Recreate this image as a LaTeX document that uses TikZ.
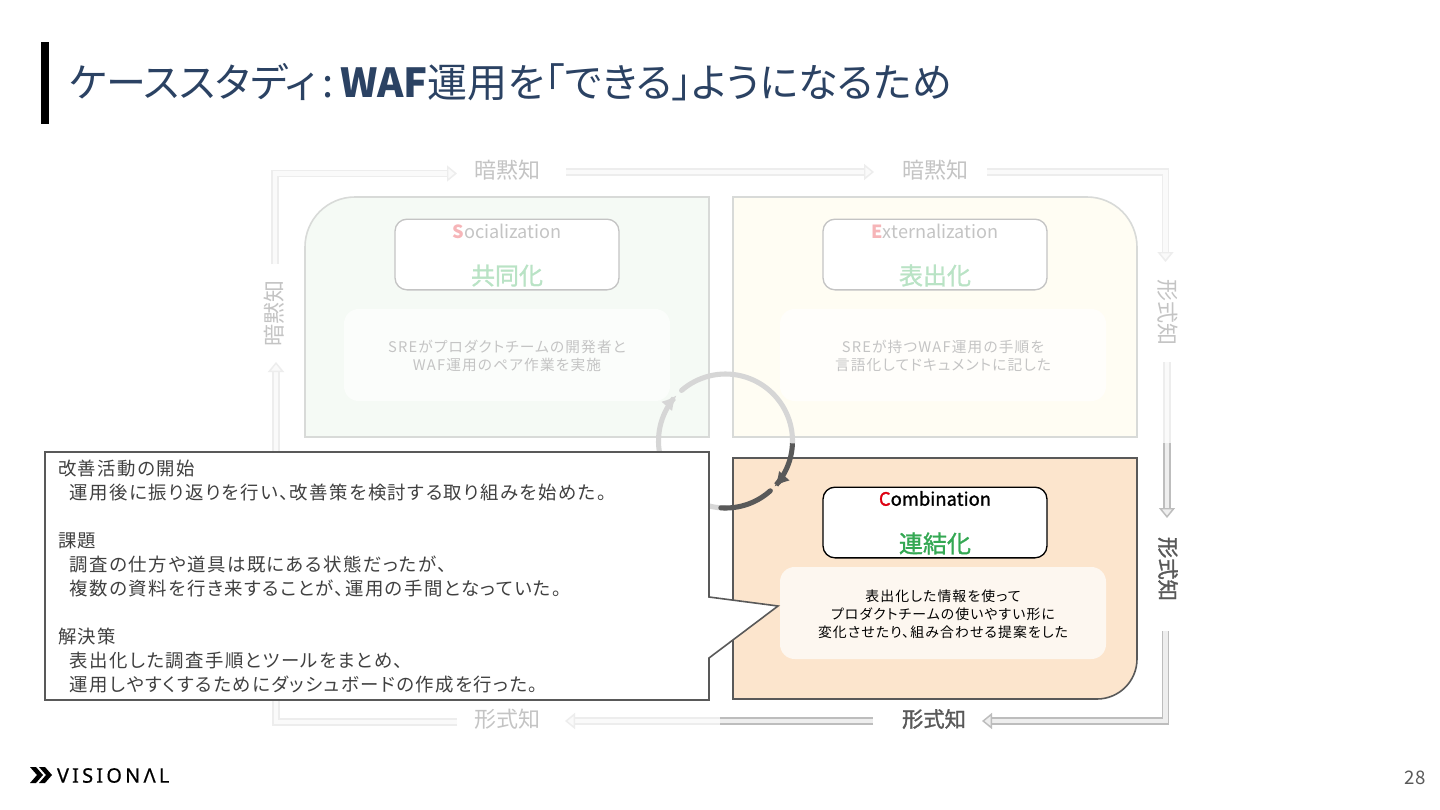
\documentclass[tikz,border=0pt]{standalone}
\usepackage{fontspec}
\usetikzlibrary{arrows.meta}
\setmainfont{Noto Sans CJK JP}[RawFeature=+palt]
\newfontfamily\midfont{Noto Sans CJK JP}[RawFeature=+palt,FakeBold=1.2]
\newfontfamily\spaced{Noto Sans CJK JP}[RawFeature=+palt,LetterSpace=8]
\newfontfamily\logofont{Noto Sans}[LetterSpace=16,FakeBold=0.5]
\definecolor{titlec}{HTML}{2B4263}
\definecolor{fadetxt}{HTML}{C4C4C4}
\definecolor{fadeline}{HTML}{EDEDED}
\definecolor{fadefill}{HTML}{FAFAFA}
\definecolor{darkline}{HTML}{BDBDBD}
\definecolor{darkfill}{HTML}{EEEEEE}
\definecolor{ink}{HTML}{595959}
\definecolor{body}{HTML}{404040}
\definecolor{qedge}{HTML}{D8DAD8}
\definecolor{sfill}{HTML}{F5FAF5}
\definecolor{efill}{HTML}{FFFDF3}
\definecolor{cfill}{HTML}{FCE5CD}
\definecolor{sinner}{HTML}{FBFDFB}
\definecolor{einner}{HTML}{FFFEFB}
\definecolor{cinner}{HTML}{FDF7F0}
\definecolor{fadegreen}{HTML}{B9E3C5}
\definecolor{gogreen}{HTML}{34A853}
\definecolor{fadered}{HTML}{F6B5B8}
\definecolor{hotred}{HTML}{DD0011}
\definecolor{ringlight}{HTML}{D6D6D6}
\tikzset{
 x=0.75pt,y=-0.75pt,
 every node/.style={inner sep=0pt,outer sep=0pt},
 fadearrow/.style={line width=1.1pt,draw=fadeline,double=fadefill,double distance=3.2pt,line join=miter},
 darkarrow/.style={line width=1.1pt,draw=darkline,double=darkfill,double distance=3.2pt,line join=miter},
 headfade/.style={-{Triangle[fill=fadefill,length=7.5pt,width=12pt,line width=1.1pt]}},
 headdark/.style={-{Triangle[fill=darkfill,length=7.5pt,width=12pt,line width=1.1pt]}},
 axisfade/.style={text=fadetxt,font=\fontsize{16.5}{20}\selectfont},
 axisdark/.style={text=ink,font=\midfont\fontsize{16}{20}\selectfont},
 namebox/.style={rectangle,rounded corners=9pt,minimum width=168pt,minimum height=53pt,fill=white,draw=#1,line width=1pt},
 infobox/.style={rectangle,rounded corners=11pt,minimum width=244.5pt,minimum height=69pt,fill=#1},
 enname/.style={font=\fontsize{13.6}{16}\selectfont},
 jpname/.style={font=\midfont\fontsize{18}{22}\selectfont},
 infotxt/.style={align=center,font=\spaced\fontsize{#1}{13.5}\selectfont},
 ring/.style={line width=3.8pt},
}
\begin{document}
\begin{tikzpicture}
\useasboundingbox (0,0) rectangle (1440,810);
\fill[white] (0,0) rectangle (1440,810);
% title
\fill[black] (41,42) rectangle (49,124);
\node[anchor=west,text=titlec,font=\fontsize{30}{36}\selectfont] (title) at (69,82) {ケーススタディ\hspace{4.5pt}:\hspace{5pt}\textbf{WAF}運用を「できる」ようになるため};
% quadrants
\draw[draw=qedge,fill=sfill,line width=1.2pt] (709,197) -- (355,197) arc[start angle=270,end angle=180,radius=50] -- (305,437) -- (709,437) -- cycle;
\draw[draw=qedge,fill=efill,line width=1.2pt] (733,197) -- (1087,197) arc[start angle=270,end angle=360,radius=50] -- (1137,437) -- (733,437) -- cycle;
\draw[draw=ink,fill=cfill,line width=1.2pt] (733,458) -- (1137,458) -- (1137,659) arc[start angle=0,end angle=90,radius=40] -- (733,699) -- cycle;
% boxes
\node[namebox=fadetxt] (sbox) at (507,254.5) {};
\node[namebox=fadetxt] (ebox) at (935,254.5) {};
\node[namebox=black] (cbox) at (935,522.5) {};
\node[infobox=sinner] (sinfo) at (507,355) {};
\node[infobox=einner] (einfo) at (943,355) {};
\node[infobox=cinner] (cinfo) at (943,613) {};
\node[enname,text=fadetxt] (sname) at (507,231.5) {\textcolor{fadered}{\textbf{S}}ocialization};
\node[jpname,text=fadegreen] (sjp) at (507,275.5) {共同化};
\node[enname,text=fadetxt] (ename) at (935,231.5) {\textcolor{fadered}{\textbf{E}}xternalization};
\node[jpname,text=fadegreen] (ejp) at (935,275.5) {表出化};
\node[text=black,font=\midfont\fontsize{13.8}{16}\selectfont] (cname) at (935,498.5) {\textcolor{hotred}{C}ombination};
\node[jpname,text=gogreen] (cjp) at (935,543.5) {連結化};
\node[infotxt=11,text=fadetxt] (stxt) at (507,356) {SREがプロダクトチームの開発者と\\WAF運用のペア作業を実施};
\node[infotxt=11,text=fadetxt] (etxt) at (943,356) {SREが持つWAF運用の手順を\\言語化してドキュメントに記した};
\node[infotxt=10.4,text=black] (ctxt) at (943,614) {表出化した情報を使って\\プロダクトチームの使いやすい形に\\変化させたり、組み合わせる提案をした};
% axis labels
\node[axisfade] (t1) at (507,170) {暗黙知};
\node[axisfade] (t2) at (935,170) {暗黙知};
\node[axisfade,rotate=-90] (r1) at (1168,312) {形式知};
\node[axisdark,rotate=-90] (r2) at (1168,569) {形式知};
\node[axisdark] (b2) at (934,719) {形式知};
\node[axisfade] (b1) at (507,719) {形式知};
\node[axisfade,rotate=90] (l1) at (274,313) {暗黙知};
% arrow coordinates
\coordinate (a1s) at (275,264); \coordinate (a1c) at (275,173.5); \coordinate (a1e) at (457,173.5);
\coordinate (a2s) at (566,172); \coordinate (a2e) at (874,172);
\coordinate (a3s) at (987,172); \coordinate (a3c) at (1165.5,172); \coordinate (a3e) at (1165.5,262);
\coordinate (a4s) at (1167,362); \coordinate (a4m) at (1167,443); \coordinate (a4e) at (1167,518);
\coordinate (a5s) at (1165.5,631); \coordinate (a5c) at (1165.5,721); \coordinate (a5e) at (982,721);
\coordinate (a6s) at (873,721); \coordinate (a6m) at (720,721); \coordinate (a6e) at (565,721);
\coordinate (a7s) at (457,722); \coordinate (a7c) at (276,722); \coordinate (a7e) at (276,362);
\draw[fadearrow,headfade] (a1s) -- (a1c) -- (a1e);
\draw[fadearrow,headfade] (a2s) -- (a2e);
\draw[fadearrow,headfade] (a3s) -- (a3c) -- (a3e);
\draw[fadearrow] (a4s) -- (a4m);
\draw[darkarrow,headdark] (a4m) -- (a4e);
\draw[darkarrow,headdark] (a5s) -- (a5c) -- (a5e);
\draw[darkarrow] (a6s) -- (a6m);
\draw[fadearrow,headfade] (a6m) -- (a6e);
\draw[fadearrow,headfade] (a7s) -- (a7c) -- (a7e);
% cycle ring
\coordinate (rc) at (725.5,441);
\begin{scope}[shift={(rc)}]
\draw[ring,draw=ringlight,-{Latex[length=11pt,width=11pt]}] plot[domain=90:223,samples=40] ({67*cos(\x)},{67*sin(\x)});
\draw[ring,draw=ringlight,line cap=round] plot[domain=229:362,samples=40] ({67*cos(\x)},{67*sin(\x)});
\draw[ring,draw=ink,-{Latex[length=11pt,width=11pt]}] plot[domain=2:43,samples=20] ({67*cos(\x)},{67*sin(\x)});
\draw[ring,draw=ink,line cap=round] plot[domain=48:94,samples=20] ({67*cos(\x)},{67*sin(\x)});
\end{scope}
% callout
\draw[draw=ink,fill=white,line width=1.2pt] (45,452) -- (709,452) -- (709,597) -- (778,606) -- (709,658) -- (709,700) -- (45,700) -- cycle;
\node[anchor=north west,align=left,text=body,font=\spaced\fontsize{13.8}{18}\selectfont] (calltxt) at (58,460) {改善活動の開始\\
\hspace*{9pt}運用後に振り返りを行い、改善策を検討する取り組みを始めた。\\[18pt]
課題\\
\hspace*{9pt}調査の仕方や道具は既にある状態だったが、\\
\hspace*{9pt}複数の資料を行き来することが、運用の手間となっていた。\\[18pt]
解決策\\
\hspace*{9pt}表出化した調査手順とツールをまとめ、\\
\hspace*{9pt}運用しやすくするためにダッシュボードの作成を行った。};
% logo
\fill[black] (30,767) -- (36,767) -- (43,775) -- (36,783) -- (30,783) -- (37,775) -- cycle;
\fill[black] (39,767) -- (45,767) -- (52,775) -- (45,783) -- (39,783) -- (46,775) -- cycle;
\node[anchor=west,text=black,font=\logofont\fontsize{15}{18}\selectfont] (logo) at (57,775.5) {VISIONΛL};
\node[text=ink,font=\fontsize{14}{18}\selectfont] (page) at (1415,778) {28};
\end{tikzpicture}
\end{document}
